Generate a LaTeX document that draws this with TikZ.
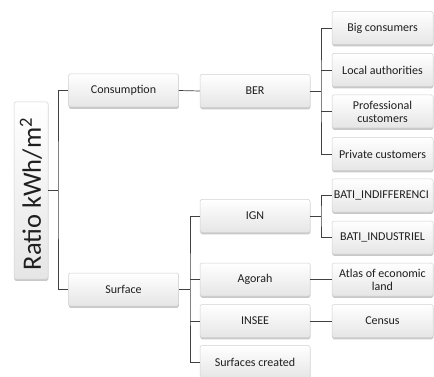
\documentclass[tikz,border=0pt]{standalone}
\usepackage{fontspec}
\setmainfont{Carlito}
\usetikzlibrary{shadows}
\tikzset{
  box/.style={draw=black!18, line width=0.5pt, rounded corners=1.5pt,
    top color=white, bottom color=black!10, text=black!88,
    minimum height=33pt, inner sep=1pt, align=center,
    font=\fontsize{12}{13}\selectfont,
    drop shadow={shadow xshift=0.3pt, shadow yshift=-1.8pt, opacity=0.35, fill=black!60}},
  midbox/.style={box, minimum width=110pt},
  leafbox/.style={box, minimum width=101pt},
  conn/.style={draw=black!75, line width=0.7pt}
}
\begin{document}
\begin{tikzpicture}[x=1pt,y=-1pt]
\clip (0,0) rectangle (434,377);
\fill[white] (0,0) rectangle (434,377);
% root
\node[box, minimum width=34pt, minimum height=177pt] (ratio) at (31,190.5) {};
\node[rotate=90, text=black!88, font=\fontsize{26.5}{28}\selectfont] (ratiotxt) at ([yshift=-3.5pt]ratio.center) {Ratio kWh/m\textsuperscript{2}};
% level 1
\node[midbox] (cons) at (123.5,90.5) {Consumption};
\node[midbox] (surf) at (123.5,289.5) {Surface};
% level 2
\node[midbox] (ber) at (255,91) {BER};
\node[midbox] (ign) at (255,216) {IGN};
\node[midbox] (agor) at (255,279.5) {Agorah};
\node[midbox] (insee) at (255,321) {INSEE};
\node[midbox] (screa) at (255,362) {Surfaces created};
% leaves
\node[leafbox] (big) at (382.5,28) {Big consumers};
\node[leafbox] (loc) at (382.5,70) {Local authorities};
\node[leafbox] (prof) at (382.5,111.5) {Professional\\customers};
\node[leafbox] (priv) at (382.5,154) {Private customers};
\node[leafbox] (bati1) at (382.5,195.5) {};
\node[anchor=west, inner sep=0pt, text=black!88, font=\fontsize{12}{13}\selectfont] (bati1txt) at ([xshift=2pt]bati1.west) {BATI\_INDIFFERENCI};
\node[leafbox] (bati2) at (382.5,237.5) {BATI\_INDUSTRIEL};
\node[leafbox] (atlas) at (382.5,279.5) {Atlas of economic\\land};
\node[leafbox] (census) at (382.5,321) {Census};
% junctions
\coordinate (j0) at (58,190.5);
\coordinate (j1) at (190,289.5);
\coordinate (j2) at (321,91);
\coordinate (j3) at (321,216);
% connectors
\draw[conn] (ratio.east) -- (j0);
\draw[conn] (cons.west) -| (j0) |- (surf.west);
\draw[conn] (cons.east) -- (ber.west);
\draw[conn] (ber.east) -- (j2);
\draw[conn] (big.west) -| (j2) |- (priv.west);
\draw[conn] (loc.west) -- (loc.west -| j2);
\draw[conn] (prof.west) -- (prof.west -| j2);
\draw[conn] (surf.east) -- (j1);
\draw[conn] (ign.west) -| (j1) |- (screa.west);
\draw[conn] (agor.west) -- (agor.west -| j1);
\draw[conn] (insee.west) -- (insee.west -| j1);
\draw[conn] (ign.east) -- (j3);
\draw[conn] (bati1.west) -| (j3) |- (bati2.west);
\draw[conn] (agor.east) -- (atlas.west);
\draw[conn] (insee.east) -- (census.west);
\end{tikzpicture}
\end{document}
